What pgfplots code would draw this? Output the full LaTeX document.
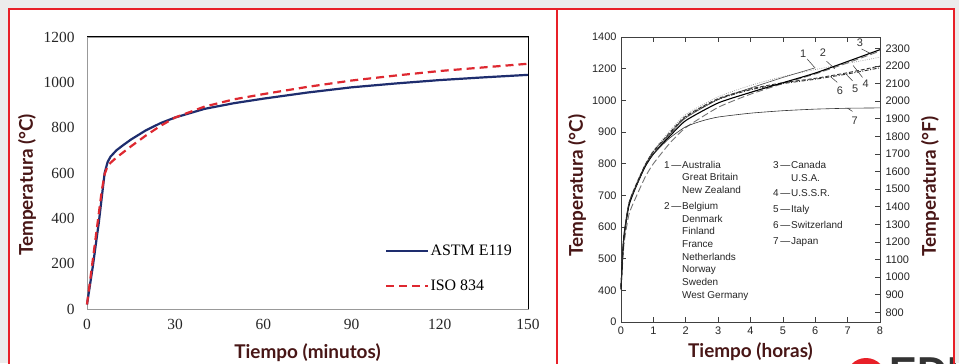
\documentclass[border=0pt]{standalone}
\usepackage{pgfplots}
\pgfplotsset{compat=1.18}
\usepackage{fontspec}
\setmainfont{Liberation Serif}
\newfontfamily\sansf{Liberation Sans}
\newfontfamily\labf{Lato}
\definecolor{frame}{RGB}{232,32,40}
\definecolor{bg}{RGB}{236,236,236}
\definecolor{lab}{RGB}{72,22,22}
\definecolor{astm}{RGB}{30,45,110}
\definecolor{iso}{RGB}{222,40,48}
\newcommand{\labfont}{\labf\bfseries\fontsize{19}{19}\selectfont}
\newcommand{\smallsans}{\sansf\fontsize{10}{10}\selectfont}

\begin{document}
\begin{tikzpicture}[x=1bp,y=1bp]
\clip (0,0) rectangle (959,363);
\fill[bg] (0,0) rectangle (959,363);
\fill[white] (9,0) rectangle (954,354);
% partial logo at the bottom
\fill[frame] (866,-15) circle (20);
\node[anchor=north west, font=\sansf\bfseries\fontsize{42}{42}\selectfont, text=black!80, inner sep=0pt] at (889,5) {EDI};
\fill[bg] (955,0) rectangle (959,363);
\draw[frame, line width=2bp] (9,-5) -- (9,354) -- (954,354) -- (954,-5);
\draw[frame, line width=2bp] (557,-5) -- (557,354);

% ---------------- left panel ----------------
\begin{axis}[
  at={(87bp,54bp)}, anchor=south west,
  width=441bp, height=272bp, scale only axis,
  xmin=0, xmax=150, ymin=0, ymax=1200,
  xtick={0,30,...,150}, ytick={0,200,...,1200},
  major tick length=0pt,
  axis line style={draw=black!40, line width=0.8bp},
  /pgf/number format/assume math mode=true,
  /pgf/number format/1000 sep={},
  tick label style={font=\fontsize{15.5}{16}\selectfont, text=black!85},
  xticklabel style={yshift=-7bp},
  yticklabel style={xshift=-9bp},
  clip=false,
  xlabel={Tiempo (minutos)},
  ylabel={Temperatura (°C)},
  xlabel style={at={(axis description cs:0.5,0)}, anchor=center, yshift=-44bp, font=\labfont, text=lab},
  ylabel style={at={([xshift=-60bp,yshift=-12bp]axis description cs:0,0.5)}, anchor=center, font=\labfont, text=lab},
  legend cell align=left,
  legend image code/.code={\draw[#1] (0bp,0bp) -- (42bp,0bp);},
  legend style={draw=none, fill=none, at={(axis cs:101.4,178.6)}, anchor=west,
    font=\fontsize{16}{16}\selectfont, row sep=21bp, inner sep=0pt,
    nodes={inner sep=1bp}},
]
\addplot[astm, line width=2.2bp] coordinates {
 (0,20) (2,190) (4,380) (6,600) (7,648) (8,672) (10,700) (12,720) (15,748) (20,788)
 (25,820) (30,845) (40,883) (50,908) (60,928) (75,955) (90,978) (105,995)
 (120,1010) (135,1022) (150,1033)};
\addlegendentry{ASTM E119}
\addplot[iso, line width=2.2bp, dash pattern=on 8bp off 5bp] coordinates {
 (0,20) (2,220) (4,420) (5,520) (6,595) (7,630) (8,645) (10,668) (15,718)
 (20,765) (25,808) (30,845) (40,893) (50,925) (60,948) (75,980) (90,1008)
 (105,1030) (120,1050) (135,1066) (150,1082)};
\addlegendentry{ISO 834}
\draw[black, line width=1bp] (rel axis cs:0,1) -- (rel axis cs:1,1) -- (rel axis cs:1,0);
\end{axis}

% ---------------- right panel, degC scale (broken axis, equally spaced labels) -------
\begin{axis}[
  at={(621bp,41bp)}, anchor=south west,
  width=259bp, height=285bp, scale only axis,
  xmin=0, xmax=8, ymin=0, ymax=9,
  xtick={0,...,8}, ytick={0,...,9},
  yticklabels={0,400,500,600,700,800,900,1000,1200,1400},
  tick align=inside, major tick length=5bp,
  xtick pos=both, xticklabel pos=left,
  ytick pos=left,
  axis line style={draw=black!75, line width=0.7bp},
  tick style={draw=black!75, line width=0.7bp},
  /pgf/number format/assume math mode=true,
  /pgf/number format/1000 sep={},
  tick label style={font=\sansf\fontsize{11}{11}\selectfont, text=black!85},
  xticklabel style={yshift=-1bp},
  yticklabel style={xshift=-1bp},
  xlabel={Tiempo (horas)},
  ylabel={Temperatura (°C)},
  xlabel style={at={(axis description cs:0.5,0)}, anchor=center, yshift=-30bp, font=\labfont, text=lab},
  ylabel style={at={([xshift=-44bp,yshift=-6bp]axis description cs:0,0.5)}, anchor=center, font=\labfont, text=lab},
]
\end{axis}

% ---------------- right panel, degF scale with the curves ----------------
\begin{axis}[
  at={(621bp,41bp)}, anchor=south west,
  width=259bp, height=285bp, scale only axis,
  xmin=0, xmax=8, ymin=745, ymax=2365,
  hide x axis,
  axis y line*=right,
  ytick={800,900,...,2300},
  tick align=inside, major tick length=5bp,
  axis line style={draw=black!75, line width=0.7bp},
  tick style={draw=black!75, line width=0.7bp},
  /pgf/number format/assume math mode=true,
  /pgf/number format/1000 sep={},
  tick label style={font=\sansf\fontsize{11}{11}\selectfont, text=black!85},
  yticklabel style={xshift=2bp},
  ylabel={Temperatura (°F)},
  ylabel style={at={([xshift=50bp,yshift=-7bp]axis description cs:1,0.5)}, anchor=center, rotate=0, font=\labfont, text=lab},
  every axis plot/.append style={smooth, tension=0.35},
  clip=false,
]
% 4 dotted
\addplot[black!45, line width=0.6bp, dash pattern=on 0.8bp off 1.4bp] coordinates {
 (0,950) (0.05,1150) (0.1,1260) (0.25,1430) (0.5,1545) (0.75,1645) (1,1720) (1.5,1830)
 (2,1925) (3,2025) (4,2090) (5,2140) (6,2180) (7,2215) (8,2250)};
% 2 long dashed
\addplot[black!55, line width=0.9bp, dash pattern=on 7bp off 3bp] coordinates {
 (0,930) (0.05,1080) (0.1,1200) (0.25,1360) (0.5,1470) (0.75,1570) (1,1645) (1.5,1760)
 (2,1850) (3,1965) (4,2040) (5,2100) (6,2155) (7,2218) (8,2285)};
% 1 solid thin
\addplot[black!70, line width=0.6bp] coordinates {
 (0,940) (0.05,1130) (0.1,1250) (0.25,1420) (0.5,1530) (0.75,1630) (1,1700) (1.5,1810)
 (2,1905) (3,2010) (4,2075) (5,2135) (6,2190)};
% 5 dashed
\addplot[black!80, line width=0.9bp, dash pattern=on 4bp off 2bp] coordinates {
 (0,945) (0.05,1140) (0.1,1255) (0.25,1425) (0.5,1540) (0.75,1640) (1,1715) (1.5,1820)
 (2,1915) (3,2015) (4,2070) (5,2105) (6,2130) (7,2162) (8,2200)};
% 6 dash dot
\addplot[black!80, line width=0.9bp, dash pattern=on 4bp off 1.5bp on 1bp off 1.5bp] coordinates {
 (0,940) (0.05,1135) (0.1,1250) (0.25,1420) (0.5,1535) (0.75,1635) (1,1712) (1.5,1815)
 (2,1910) (3,2010) (4,2065) (5,2100) (6,2125) (7,2155) (8,2190)};
% 3 solid black
\addplot[black, line width=1.1bp] coordinates {
 (0,930) (0.05,1120) (0.1,1240) (0.25,1410) (0.5,1530) (0.75,1630) (1,1700) (1.5,1800)
 (2,1890) (3,1990) (4,2050) (5,2105) (6,2160) (7,2226) (8,2293)};
% 7 solid thin (Japan)
\addplot[black!80, line width=0.6bp] coordinates {
 (0,935) (0.05,1120) (0.1,1240) (0.25,1420) (0.5,1530) (0.75,1635) (1,1700) (1.5,1790)
 (2,1855) (2.5,1888) (3,1910) (4,1932) (5,1946) (6,1955) (7,1960) (8,1962)};
% curve numbers and leader lines
\begin{scope}[black!80, line width=0.5bp]
\draw (axis cs:5.75,2240) -- (axis cs:5.98,2192);
\node[font=\sansf\fontsize{11}{11}\selectfont] at (axis cs:5.63,2272) {1};
\draw (axis cs:6.35,2227) -- (axis cs:6.6,2185);
\node[font=\sansf\fontsize{11}{11}\selectfont] at (axis cs:6.24,2275) {2};
\draw (axis cs:7.43,2297) -- (axis cs:7.74,2268);
\node[font=\sansf\fontsize{11}{11}\selectfont] at (axis cs:7.38,2334) {3};
\draw (axis cs:7.46,2135) -- (axis cs:7.17,2203);
\node[font=\sansf\fontsize{11}{11}\selectfont] at (axis cs:7.56,2098) {4};
\draw (axis cs:7.15,2116) -- (axis cs:6.94,2156);
\node[font=\sansf\fontsize{11}{11}\selectfont] at (axis cs:7.23,2069) {5};
\draw (axis cs:6.68,2107) -- (axis cs:6.47,2140);
\node[font=\sansf\fontsize{11}{11}\selectfont] at (axis cs:6.76,2061) {6};
\draw (axis cs:7.15,1942) -- (axis cs:7.0,1960);
\node[font=\sansf\fontsize{11}{11}\selectfont] at (axis cs:7.22,1890) {7};
\end{scope}
\end{axis}

% key of the right panel
\begin{scope}[every node/.style={font=\smallsans, text=black!85, inner sep=0pt}]
\node[anchor=base east] at (681.5,194.4) {1\,—};
\node[anchor=base west] at (682,194.4) {Australia};
\node[anchor=base west] at (682,182.1) {Great Britain};
\node[anchor=base west] at (682,169.4) {New Zealand};
\node[anchor=base east] at (681.5,153.4) {2\,—};
\node[anchor=base west] at (682,153.4) {Belgium};
\node[anchor=base west] at (682,140.4) {Denmark};
\node[anchor=base west] at (682,128.1) {Finland};
\node[anchor=base west] at (682,115.1) {France};
\node[anchor=base west] at (682,102.1) {Netherlands};
\node[anchor=base west] at (682,90.4) {Norway};
\node[anchor=base west] at (682,77.7) {Sweden};
\node[anchor=base west] at (682,64.7) {West Germany};
\node[anchor=base east] at (790.5,194.4) {3\,—};
\node[anchor=base west] at (791,194.4) {Canada};
\node[anchor=base west] at (791,181.7) {U.S.A.};
\node[anchor=base east] at (790.5,166.1) {4\,—};
\node[anchor=base west] at (791,166.1) {U.S.S.R.};
\node[anchor=base east] at (790.5,150.4) {5\,—};
\node[anchor=base west] at (791,150.4) {Italy};
\node[anchor=base east] at (790.5,134.4) {6\,—};
\node[anchor=base west] at (791,134.4) {Switzerland};
\node[anchor=base east] at (790.5,118.7) {7\,—};
\node[anchor=base west] at (791,118.7) {Japan};
\end{scope}
\end{tikzpicture}
\end{document}
